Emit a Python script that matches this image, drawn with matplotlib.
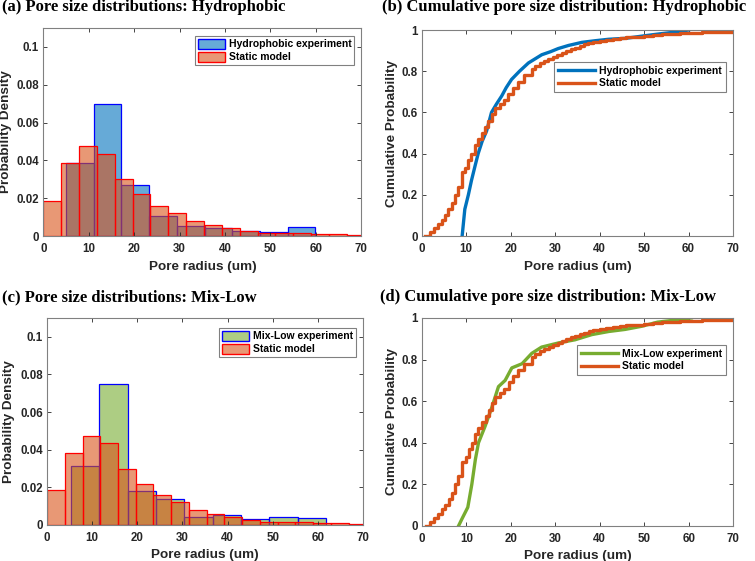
import numpy as np
import matplotlib
matplotlib.use("Agg")
import matplotlib.pyplot as plt
from matplotlib.patches import Patch
from matplotlib.lines import Line2D

# ---------------- data ----------------
# Histograms (bin edges start, bin width, densities)
hydro_start, hydro_width = 5.0, 6.1
hydro_density = [0.0384, 0.070, 0.0272, 0.0108, 0.0055, 0.0045, 0.0027, 0.0021, 0.0048]

mix_start, mix_width = 5.3, 6.28
mix_density = [0.0315, 0.075, 0.0183, 0.0138, 0.0045, 0.0052, 0.0030, 0.0041, 0.0036]

static_start, static_width = 0.0, 3.93
static_density = [0.0185, 0.0385, 0.0475, 0.0435, 0.030, 0.022, 0.016, 0.0123, 0.0077,
                  0.006, 0.0045, 0.0026, 0.0018, 0.0016, 0.0016, 0.0013, 0.0008, 0.0004]

# Cumulative distributions
hydro_cdf_x = [9.1, 9.7, 10.5, 11.2, 12.0, 12.7, 13.6, 14.6, 15.7, 16.8, 18.0, 19.0, 20.2,
               22.0, 24.0, 25.5, 27.0, 29.0, 30.7, 33.0, 36.0, 39.0, 42.0, 46.0, 49.4, 53.0,
               57.0, 60.0]
hydro_cdf_y = [0.0, 0.13, 0.20, 0.27, 0.34, 0.40, 0.46, 0.51, 0.60, 0.64, 0.68, 0.72, 0.76,
               0.80, 0.84, 0.86, 0.88, 0.895, 0.91, 0.925, 0.94, 0.948, 0.955, 0.96, 0.97,
               0.98, 0.99, 1.0]

mix_cdf_x = [8.2, 9.0, 10.3, 11.2, 12.0, 12.7, 14.2, 15.7, 17.2, 18.7, 20.2, 22.5, 24.7,
             26.9, 30.7, 34.4, 38.2, 42.0, 45.7, 49.4, 53.0, 57.0, 60.6]
mix_cdf_y = [0.0, 0.035, 0.09, 0.20, 0.32, 0.40, 0.48, 0.57, 0.67, 0.70, 0.76, 0.78, 0.83,
             0.86, 0.88, 0.895, 0.92, 0.935, 0.945, 0.96, 0.98, 0.99, 1.0]

static_cdf_x = [0.8, 1.8, 2.8, 3.7, 4.5, 5.2, 6.0, 6.8, 7.5, 8.2, 9.0, 9.8, 10.5, 11.2, 12.0,
                12.7, 13.5, 14.3, 15.0, 15.8, 16.5, 17.5, 18.5, 19.5, 20.5, 21.7, 23.0, 24.7,
                25.5, 26.5, 27.5, 28.5, 29.5, 30.5, 31.5, 32.5, 33.5, 34.5, 35.5, 36.5, 37.5,
                38.5, 40.0, 41.5, 43.0, 44.5, 46.0, 48.0, 50.0, 52.0, 54.0, 56.0, 58.0, 60.0,
                63.0, 66.0, 70.0]
static_cdf_y = [0.0, 0.02, 0.04, 0.06, 0.08, 0.10, 0.13, 0.16, 0.20, 0.24, 0.31, 0.33, 0.37,
                0.40, 0.44, 0.47, 0.50, 0.53, 0.56, 0.59, 0.62, 0.64, 0.66, 0.69, 0.72, 0.75,
                0.78, 0.81, 0.825, 0.84, 0.85, 0.86, 0.87, 0.88, 0.89, 0.90, 0.907, 0.915,
                0.922, 0.93, 0.935, 0.94, 0.945, 0.95, 0.955, 0.96, 0.965, 0.968, 0.972,
                0.976, 0.98, 0.983, 0.985, 0.987, 0.988, 0.99, 0.99]

titles = ["(a) Pore size distributions: Hydrophobic",
          "(b) Cumulative pore size distribution: Hydrophobic",
          "(c) Pore size distributions: Mix-Low",
          "(d) Cumulative pore size distribution: Mix-Low"]

# ---------------- style ----------------
SANS = "Liberation Sans"
SERIF = "Liberation Serif"
AXC = "#262626"
BLUE = (0.0, 0.447, 0.741)
RED = (0.85, 0.325, 0.098)
GREEN = (0.466, 0.674, 0.188)

fig = plt.figure(figsize=(7.55, 5.61), dpi=100)

def style_axes(ax, yticks, ylim, ylabel, ytick_labels, ylab_x):
    ax.set_xlim(0, 70)
    ax.set_ylim(*ylim)
    ax.set_xticks(range(0, 71, 10))
    ax.set_yticks(yticks)
    ax.set_yticklabels(ytick_labels)
    ax.tick_params(direction="in", top=True, right=True, length=3, width=0.6,
                   colors=AXC, labelsize=8.3, pad=3)
    ax.tick_params(axis="x", pad=5)
    for lab in ax.get_xticklabels() + ax.get_yticklabels():
        lab.set_fontfamily(SANS)
        lab.set_fontweight("bold")
    for s in ax.spines.values():
        s.set_color("#808080")
        s.set_linewidth(0.8)
    ax.set_xlabel("Pore radius (um)", fontfamily=SANS, fontweight="bold",
                  fontsize=9.7, color=AXC, labelpad=4)
    ax.set_ylabel(ylabel, fontfamily=SANS, fontweight="bold", fontsize=9.7,
                  color=AXC)
    ax.yaxis.set_label_coords(ylab_x, 0.5)

def hist(ax, start, width, dens, face, edge):
    edges = start + width * np.arange(len(dens))
    ax.bar(edges, dens, width=width, align="edge", color=face, alpha=0.6,
           edgecolor="none", linewidth=0)
    ax.bar(edges, dens, width=width, align="edge", facecolor="none",
           edgecolor=edge, linewidth=0.9)

hist_ticks = [0, 0.02, 0.04, 0.06, 0.08, 0.1]
hist_lbls = ["0", "0.02", "0.04", "0.06", "0.08", "0.1"]
cdf_ticks = [0, 0.2, 0.4, 0.6, 0.8, 1]
cdf_lbls = ["0", "0.2", "0.4", "0.6", "0.8", "1"]

pos = {
    "a": [0.0574, 0.5793, 0.4212, 0.3708],
    "b": [0.5585, 0.5793, 0.4124, 0.3672],
    "c": [0.0623, 0.0642, 0.4185, 0.3690],
    "d": [0.5590, 0.0624, 0.4120, 0.3708],
}

def hist_legend(ax, label, face, edge, anchor):
    handles = [Patch(facecolor=(*face, 0.6), edgecolor=edge, linewidth=1.0),
               Patch(facecolor=(*RED, 0.6), edgecolor="red", linewidth=1.0)]
    leg = ax.legend(handles, [label, "Static model"], loc="upper right",
                    bbox_to_anchor=anchor, frameon=True, fancybox=False,
                    edgecolor="#808080", framealpha=1, handlelength=2.6,
                    handleheight=1.1, handletextpad=0.4, borderpad=0.25,
                    labelspacing=0.2, borderaxespad=0,
                    prop={"family": SANS, "weight": "bold", "size": 7.5})
    leg.get_frame().set_linewidth(0.8)

def cdf_legend(ax, label, color, anchor):
    handles = [Line2D([], [], color=color, lw=2.4), Line2D([], [], color=RED, lw=2.4)]
    leg = ax.legend(handles, [label, "Static model"], loc="upper right",
                    bbox_to_anchor=anchor, frameon=True, fancybox=False,
                    edgecolor="#808080", framealpha=1, handlelength=3.6,
                    handletextpad=0.4, borderpad=0.35, labelspacing=0.25,
                    borderaxespad=0,
                    prop={"family": SANS, "weight": "bold", "size": 7.5})
    leg.get_frame().set_linewidth(0.8)

# (a)
ax = fig.add_axes(pos["a"])
hist(ax, hydro_start, hydro_width, hydro_density, BLUE, "blue")
hist(ax, static_start, static_width, static_density, RED, "red")
style_axes(ax, hist_ticks, (0, 0.11), "Probability Density", hist_lbls, -0.098)
hist_legend(ax, "Hydrophobic experiment", BLUE, "blue", (0.978, 0.96))

# (b)
ax = fig.add_axes(pos["b"])
ax.plot(hydro_cdf_x, hydro_cdf_y, color=BLUE, lw=2.4)
ax.plot(static_cdf_x, static_cdf_y, color=RED, lw=2.4, drawstyle="steps-post")
style_axes(ax, cdf_ticks, (0, 1), "Cumulative Probability", cdf_lbls, -0.076)
cdf_legend(ax, "Hydrophobic experiment", BLUE, (0.977, 0.845))

# (c)
ax = fig.add_axes(pos["c"])
hist(ax, mix_start, mix_width, mix_density, GREEN, "blue")
hist(ax, static_start, static_width, static_density, RED, "red")
style_axes(ax, hist_ticks, (0, 0.11), "Probability Density", hist_lbls, -0.101)
hist_legend(ax, "Mix-Low experiment", GREEN, "blue", (0.978, 0.95))

# (d)
ax = fig.add_axes(pos["d"])
ax.plot(mix_cdf_x, mix_cdf_y, color=GREEN, lw=2.4)
ax.plot(static_cdf_x, static_cdf_y, color=RED, lw=2.4, drawstyle="steps-post")
style_axes(ax, cdf_ticks, (0, 1), "Cumulative Probability", cdf_lbls, -0.077)
cdf_legend(ax, "Mix-Low experiment", GREEN, (0.977, 0.87))

# titles
title_pos = [(2, 7), (382, 7), (2, 297), (380, 297)]
for t, (px, py) in zip(titles, title_pos):
    fig.text(px / 755, 1 - py / 561, t, ha="left", va="center",
             fontfamily=SERIF, fontweight="bold", fontsize=12, color="black")

fig.savefig("out.png", dpi=100)
